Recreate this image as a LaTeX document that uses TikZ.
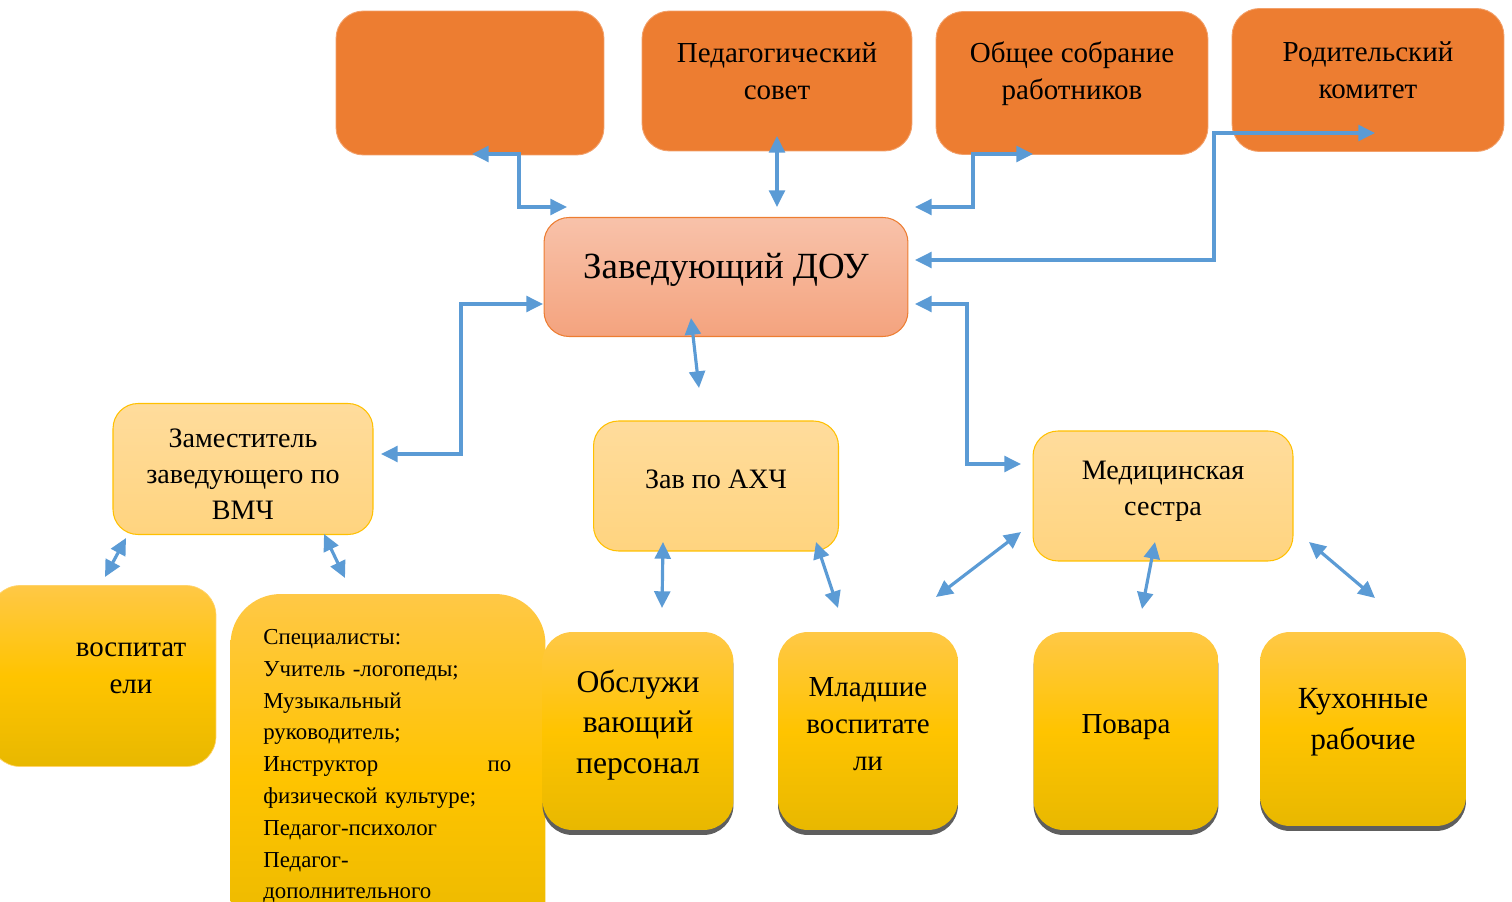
\documentclass[tikz,border=0pt]{standalone}
\usepackage{fontspec}
\setmainfont{Liberation Serif}
\usetikzlibrary{arrows.meta,shadows}

\definecolor{topOrange}{HTML}{ED7D31}
\definecolor{topEdge}{HTML}{F2A06A}
\definecolor{headTop}{HTML}{F8C2AA}
\definecolor{headBottom}{HTML}{F4A37E}
\definecolor{midTop}{HTML}{FFDC9C}
\definecolor{midBottom}{HTML}{FFD47F}
\definecolor{midEdge}{HTML}{FFC000}
\definecolor{lowTop}{HTML}{FFC846}
\definecolor{lowMiddle}{HTML}{FFC400}
\definecolor{lowBottom}{HTML}{E8B800}
\definecolor{shadowGray}{HTML}{5E5E5E}
\definecolor{linkBlue}{HTML}{5B9BD5}

\begin{document}
\begin{tikzpicture}[%%
  x=0.02cm,y=-0.02cm,
  topBox/.style={rounded corners=0.55cm,fill=topOrange,draw=topEdge,line width=0.5pt},
  topText/.style={align=center,inner sep=0pt,font=\fontsize{16.5}{21}\selectfont},
  headBox/.style={rounded corners=0.5cm,top color=headTop,bottom color=headBottom,draw=topOrange,line width=0.6pt},
  midBox/.style={rounded corners=0.5cm,top color=midTop,bottom color=midBottom,draw=midEdge,line width=0.6pt},
  midText/.style={align=center,inner sep=0pt,font=\fontsize{16}{20.5}\selectfont},
  lowBox/.style={rounded corners=0.6cm,top color=lowTop,bottom color=lowBottom,middle color=lowMiddle},
  lowShadow/.style={drop shadow={shadow xshift=0cm,shadow yshift=-0.1cm,fill=shadowGray,opacity=1}},
  lowText/.style={align=center,inner sep=0pt,font=\fontsize{17.5}{22.5}\selectfont},
  link/.style={draw=linkBlue,line width=1.8pt,{Triangle[length=9.5pt,width=9pt]}-{Triangle[length=9.5pt,width=9pt]}}
]
%%
\useasboundingbox (0,0) rectangle (1512,902);
\clip (0,0) rectangle (1512,902);
%%
%% Top row.
\node[topBox,minimum width=5.36cm,minimum height=2.88cm] (empty) at (470,83) {};
\node[topBox,minimum width=5.4cm,minimum height=2.8cm] (pedsovet) at (777,81) {};
\node[topText] (pedsovetText) at (777,71) {Педагогический\\совет};
\node[topBox,minimum width=5.44cm,minimum height=2.86cm] (sobranie) at (1072,83) {};
\node[topText] (sobranieText) at (1072,74) {Общее собрание\\работников};
\node[topBox,minimum width=5.44cm,minimum height=2.86cm] (komitet) at (1368,80) {};
\node[topText] (komitetText) at (1368,70) {Родительский\\комитет};
%%
%% Head.
\node[headBox,minimum width=7.28cm,minimum height=2.38cm] (zav) at (726,277) {};
\node[inner sep=0pt,font=\fontsize{21}{25}\selectfont] (zavText) at (726,270) {Заведующий ДОУ};
%%
%% Middle row.
\node[midBox,minimum width=5.2cm,minimum height=2.62cm] (zam) at (243,469) {};
\node[midText] (zamText) at (243,474) {Заместитель\\заведующего по\\ВМЧ};
\node[midBox,minimum width=4.9cm,minimum height=2.6cm] (ahch) at (716,486) {};
\node[midText] (ahchText) at (716,479) {Зав по АХЧ};
\node[midBox,minimum width=5.2cm,minimum height=2.6cm] (med) at (1163,496) {};
\node[midText] (medText) at (1163,491) {Медицинская\\сестра};
%%
%% Bottom row.
\node[lowBox,draw=lowTop!80!white,minimum width=4.52cm,minimum height=3.62cm] (vosp) at (103,676) {};
\node[lowText,font=\fontsize{16.5}{21}\selectfont] (vospText) at (131,668) {воспитат\\ели};
\node[lowBox,rounded corners=1cm,minimum width=6.3cm,minimum height=7.32cm] (spec) at (388,777) {};
\node[anchor=north west,inner sep=0pt,text width=4.96cm,align=left,
  font=\fontsize{13}{18.1}\selectfont] (specText) at (263,629) {%
  Специалисты:\\
  Учитель -логопеды;\\
  Музыкальный\\
  руководитель;\\
  Инструктор\hspace{0pt plus 1filll}по\\
  физической культуре;\\
  Педагог-психолог\\
  Педагог-\\
  дополнительного};
\node[lowBox,lowShadow,minimum width=3.82cm,minimum height=3.96cm] (obsl) at (638,731) {};
\node[lowText,font=\fontsize{18}{23}\selectfont] (obslText) at (638,725) {Обслужи\\вающий\\персонал};
\node[lowBox,lowShadow,minimum width=3.6cm,minimum height=3.96cm] (mladsh) at (868,731) {};
\node[lowText,font=\fontsize{16.5}{21}\selectfont] (mladshText) at (868,724) {Младшие\\воспитате\\ли};
\node[lowBox,lowShadow,minimum width=3.7cm,minimum height=3.96cm] (povara) at (1126,731) {};
\node[lowText,font=\fontsize{16.5}{21}\selectfont] (povaraText) at (1126,727) {Повара};
\node[lowBox,lowShadow,minimum width=4.12cm,minimum height=3.88cm] (kuhnya) at (1363,729) {};
\node[lowText,font=\fontsize{17.5}{23.2}\selectfont] (kuhnyaText) at (1363,722) {Кухонные\\рабочие};
%%
%% Arrow ends.
\coordinate (emptyEnd) at (472,154);
\coordinate (zavA) at (567,207);
\coordinate (pedsovetEnd) at (777,136);
\coordinate (zavB) at (777,207);
\coordinate (zavC) at (915,207);
\coordinate (sobranieEnd) at (1033,154);
\coordinate (zavD) at (915,260);
\coordinate (komitetEnd) at (1375,133);
\coordinate (zavE) at (543,304);
\coordinate (zamEnd) at (381,454);
\coordinate (zavF) at (691,318);
\coordinate (ahchEnd) at (699,388);
\coordinate (zavG) at (915,304);
\coordinate (medEnd) at (1021,464);
\coordinate (zamA) at (126,538);
\coordinate (vospEnd) at (105,577);
\coordinate (zamB) at (324,534);
\coordinate (specEnd) at (345,578);
\coordinate (ahchA) at (663,542);
\coordinate (obslEnd) at (662,608);
\coordinate (ahchB) at (816,542);
\coordinate (mladshEnd) at (838,608);
\coordinate (medA) at (1021,532);
\coordinate (mladshEndB) at (936,597);
\coordinate (medB) at (1155,542);
\coordinate (povaraEnd) at (1142,609);
\coordinate (medC) at (1309,542);
\coordinate (kuhnyaEnd) at (1375,598);
%%
%% Connectors.
\path[link] (emptyEnd) -- ++(47,0) |- (zavA);
\path[link] (pedsovetEnd) -- (zavB);
\path[link] (zavC) -- ++(58,0) |- (sobranieEnd);
\path[link] (zavD) -- ++(299,0) |- (komitetEnd);
\path[link] (zavE) -- ++(-82,0) |- (zamEnd);
\path[link] (zavF) -- (ahchEnd);
\path[link] (zavG) -- ++(52,0) |- (medEnd);
\path[link] (zamA) -- (vospEnd);
\path[link] (zamB) -- (specEnd);
\path[link] (ahchA) -- (obslEnd);
\path[link] (ahchB) -- (mladshEnd);
\path[link] (medA) -- (mladshEndB);
\path[link] (medB) -- (povaraEnd);
\path[link] (medC) -- (kuhnyaEnd);
\end{tikzpicture}
\end{document}
